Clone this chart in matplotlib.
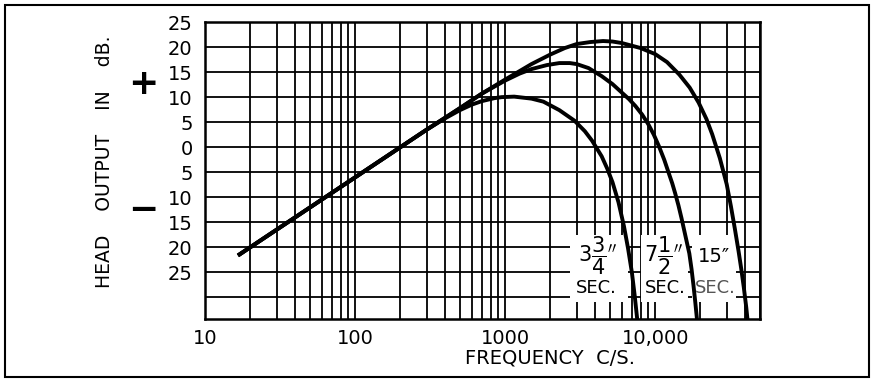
import matplotlib
matplotlib.use('Agg')
import matplotlib.pyplot as plt
from matplotlib.ticker import LogLocator, FixedLocator, NullFormatter
from matplotlib.patches import Rectangle

# curves (frequency in c/s, output in dB)
freq_3 = [17, 300, 400, 500, 600, 700, 850, 950, 1150, 1500, 1800, 2300, 2900, 3400, 3800, 4400,
          4800, 5200, 5700, 6200, 6600, 7000, 7300, 7600]
db_3 = [-21.4, 3.5, 5.8, 7.4, 8.5, 9.2, 9.8, 10.0, 10.1, 9.7, 9.1, 7.4, 5.3, 3.2, 1.3, -1.8,
        -4.3, -7.0, -11.0, -15.8, -20.2, -25.0, -29.5, -34.4]

freq_7 = [17, 300, 500, 700, 1000, 1250, 1500, 1900, 2300, 2700, 3000, 3600, 4400, 5200, 6000, 6700,
          7400, 8200, 9000, 9800, 10600, 11500, 12400, 13000, 13600, 14300, 15000, 16000, 16900,
          17500, 18000, 18500, 19000]
db_7 = [-21.4, 3.5, 7.8, 10.7, 13.3, 14.7, 15.6, 16.4, 16.8, 16.8, 16.6, 15.8, 14.2, 12.6, 10.9, 9.6,
        8.2, 6.5, 4.6, 2.5, 0.2, -2.5, -5.4, -7.2, -9.2, -11.6, -14.2, -18.0, -21.2,
        -24.4, -27.5, -30.8, -34.3]

freq_15 = [17, 300, 500, 700, 1000, 1250, 1500, 2000, 2500, 3000, 3700, 4500, 5200, 6000, 8000, 10000,
           12000, 14500, 17000, 19500, 22000, 24000, 27000, 30000, 32000, 34000, 36000, 37500, 39000,
           40500, 41300]
db_15 = [-21.4, 3.5, 7.8, 10.7, 13.5, 15.2, 16.6, 18.5, 19.8, 20.6, 21.0, 21.2, 21.1, 20.8, 19.8, 18.6,
         17.0, 14.5, 11.9, 8.9, 5.6, 2.6, -2.2, -7.4, -11.8, -16.3, -20.8, -24.3, -28.0,
         -32.0, -34.5]

x_ticks = [10, 100, 1000, 10000]
x_labels = ['10', '100', '1000', '10,000']
y_ticks = [-30, -25, -20, -15, -10, -5, 0, 5, 10, 15, 20, 25]
y_labels = ['', '25', '20', '15', '10', '5', '0', '5', '10', '15', '20', '25']

W, H = 873, 379
fig = plt.figure(figsize=(W / 100, H / 100), dpi=100)
ax = fig.add_axes([205 / W, 1 - 319 / H, 555 / W, 297 / H])

ax.set_xscale('log')
ax.set_xlim(10, 50000)
ax.set_ylim(-34.3, 25)

ax.xaxis.set_major_locator(FixedLocator(x_ticks))
ax.set_xticklabels(x_labels)
ax.xaxis.set_minor_locator(LogLocator(base=10, subs=[2, 3, 4, 5, 6, 7, 8, 9], numticks=20))
ax.xaxis.set_minor_formatter(NullFormatter())
ax.set_yticks(y_ticks)
ax.set_yticklabels(y_labels)

ax.tick_params(which='both', length=0)
ax.tick_params(axis='x', pad=7, labelsize=14)
ax.tick_params(axis='y', pad=9, labelsize=14)
ax.grid(which='both', color='black', lw=1.3)
ax.set_axisbelow(True)
for sp in ax.spines.values():
    sp.set_linewidth(1.8)

# white label areas in the lower right corner
for x0, x1 in [(570, 628), (641, 688), (692, 736)]:
    ax.add_patch(Rectangle(((x0 - 205) / 555, (319 - 302) / 297), (x1 - x0) / 555, 67 / 297,
                           transform=ax.transAxes, facecolor='white', edgecolor='none', zorder=1.5))

ax.plot(freq_3, db_3, color='black', lw=2.8, zorder=3)
ax.plot(freq_7, db_7, color='black', lw=2.8, zorder=3)
ax.plot(freq_15, db_15, color='black', lw=2.8, zorder=3)

def ft(px, py, s, **kw):
    fig.text(px / W, 1 - py / H, s, ha='center', va='center', **kw)

ft(598, 256, r'$3\dfrac{3}{4}^{\prime\prime}$', fontsize=15)
ft(596, 288, 'SEC.', fontsize=13)
ft(664, 256, r'$7\dfrac{1}{2}^{\prime\prime}$', fontsize=15)
ft(665, 288, 'SEC.', fontsize=13)
ft(714, 257, '15\u2033', fontsize=14)
ft(715, 288, 'SEC.', fontsize=13, color='#555555')

ft(550, 358, 'FREQUENCY  C/S.', fontsize=14)
ft(104, 162, 'HEAD    OUTPUT    IN    dB.', fontsize=13.5, rotation=90)
ft(143, 84, '+', fontsize=26, fontweight='bold')
ft(143, 210, '\u2212', fontsize=26, fontweight='bold')

fig.add_artist(Rectangle((5 / W, 2 / H), 864 / W, 372 / H, transform=fig.transFigure,
                         facecolor='none', edgecolor='black', lw=1.5))

fig.savefig('out.png', dpi=100)
